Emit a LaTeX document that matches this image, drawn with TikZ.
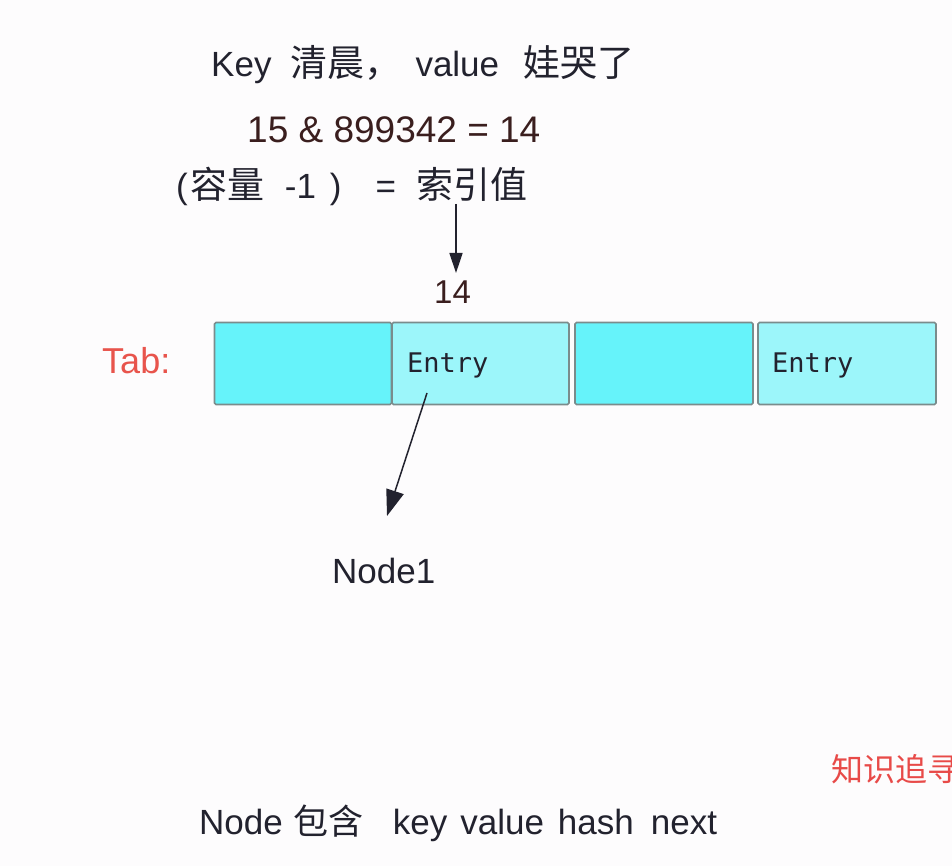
\documentclass[tikz,border=0pt]{standalone}
\usepackage{fontspec}
\setmainfont{Liberation Sans}
\newfontfamily\cjk{Noto Sans CJK SC}
\newfontfamily\monofnt{DejaVu Sans Mono}
\usetikzlibrary{arrows.meta}
\definecolor{cyanA}{HTML}{66F3FA}
\definecolor{cyanB}{HTML}{9CF6FA}
\definecolor{boxline}{HTML}{7A8C8C}
\definecolor{tabred}{HTML}{E8544C}
\definecolor{wmred}{HTML}{E84A48}
\definecolor{ink}{HTML}{22222E}
\definecolor{numink}{HTML}{3A1E1E}
\definecolor{bg}{HTML}{FDFCFD}
\newcommand{\bigcjk}[1]{{\cjk\fontsize{37}{40}\selectfont #1}}
\begin{document}
\begin{tikzpicture}[x=1pt,y=-1pt,
  txt/.style={anchor=base west, inner sep=0pt, font=\fontsize{35}{40}\selectfont, text=ink},
  monotxt/.style={anchor=base west, inner sep=0pt, font=\monofnt\fontsize{27}{30}\selectfont, text=ink},
  cell/.style={draw=boxline, line width=1.6pt, rounded corners=1.5pt, minimum height=82pt, inner sep=0pt},
  arr/.style={draw=ink, line width=1.5pt}
]
\useasboundingbox (0,0) rectangle (952,866);
\fill[bg] (0,0) rectangle (952,866);
\clip (0,0) rectangle (952,866);

% header lines
\node[txt] (l1) at (211,77) {Key\hspace{19pt}\bigcjk{清晨，}\hspace{14pt}value\hspace{24pt}\bigcjk{娃哭了}};
\node[txt, font=\fontsize{37}{42}\selectfont, text=numink] (l2) at (247,143) {15 \& 899342 = 14};
\node[txt] (l3) at (176,199) {(\hspace{3pt}\bigcjk{容量}\hspace{20pt}-1\hspace{14pt})\hspace{34pt}=\hspace{20pt}\bigcjk{索引值}};

% index label
\node[txt, font=\fontsize{33}{36}\selectfont, text=numink] (n14) at (434,303) {14};

% table
\node[txt, font=\fontsize{36}{40}\selectfont, text=tabred] (tab) at (102,373) {Tab:};
\node[cell, fill=cyanA, minimum width=177pt] (c1) at (303,363.5) {};
\node[cell, fill=cyanB, minimum width=177pt] (c2) at (480.5,363.5) {};
\node[cell, fill=cyanA, minimum width=178pt] (c3) at (664,363.5) {};
\node[cell, fill=cyanB, minimum width=178pt] (c4) at (847,363.5) {};
\node[monotxt] (e1) at (407,372) {Entry};
\node[monotxt] (e2) at (772,372) {Entry};

% node label
\node[txt] (n1) at (332,583) {Node1};

% watermark
\node[anchor=base west, inner sep=0pt, font=\cjk\fontsize{32}{36}\selectfont, text=wmred] (wm) at (831,781) {知识追寻};

% bottom line
\node[txt] (l4) at (199,834) {Node\hspace{11pt}{\cjk 包含}\hspace{29pt}key\hspace{13pt}value\hspace{14pt}hash\hspace{17pt}next};

% arrows
\coordinate (a1s) at (456,204);
\coordinate (a1e) at (456,273);
\draw[arr, -{Triangle[length=20pt,width=13pt]}] (a1s) -- (a1e);
\coordinate (a2s) at (427,393);
\coordinate (a2e) at (387,516);
\draw[arr, -{Triangle[length=26pt,width=18pt]}] (a2s) -- (a2e);
\end{tikzpicture}
\end{document}
